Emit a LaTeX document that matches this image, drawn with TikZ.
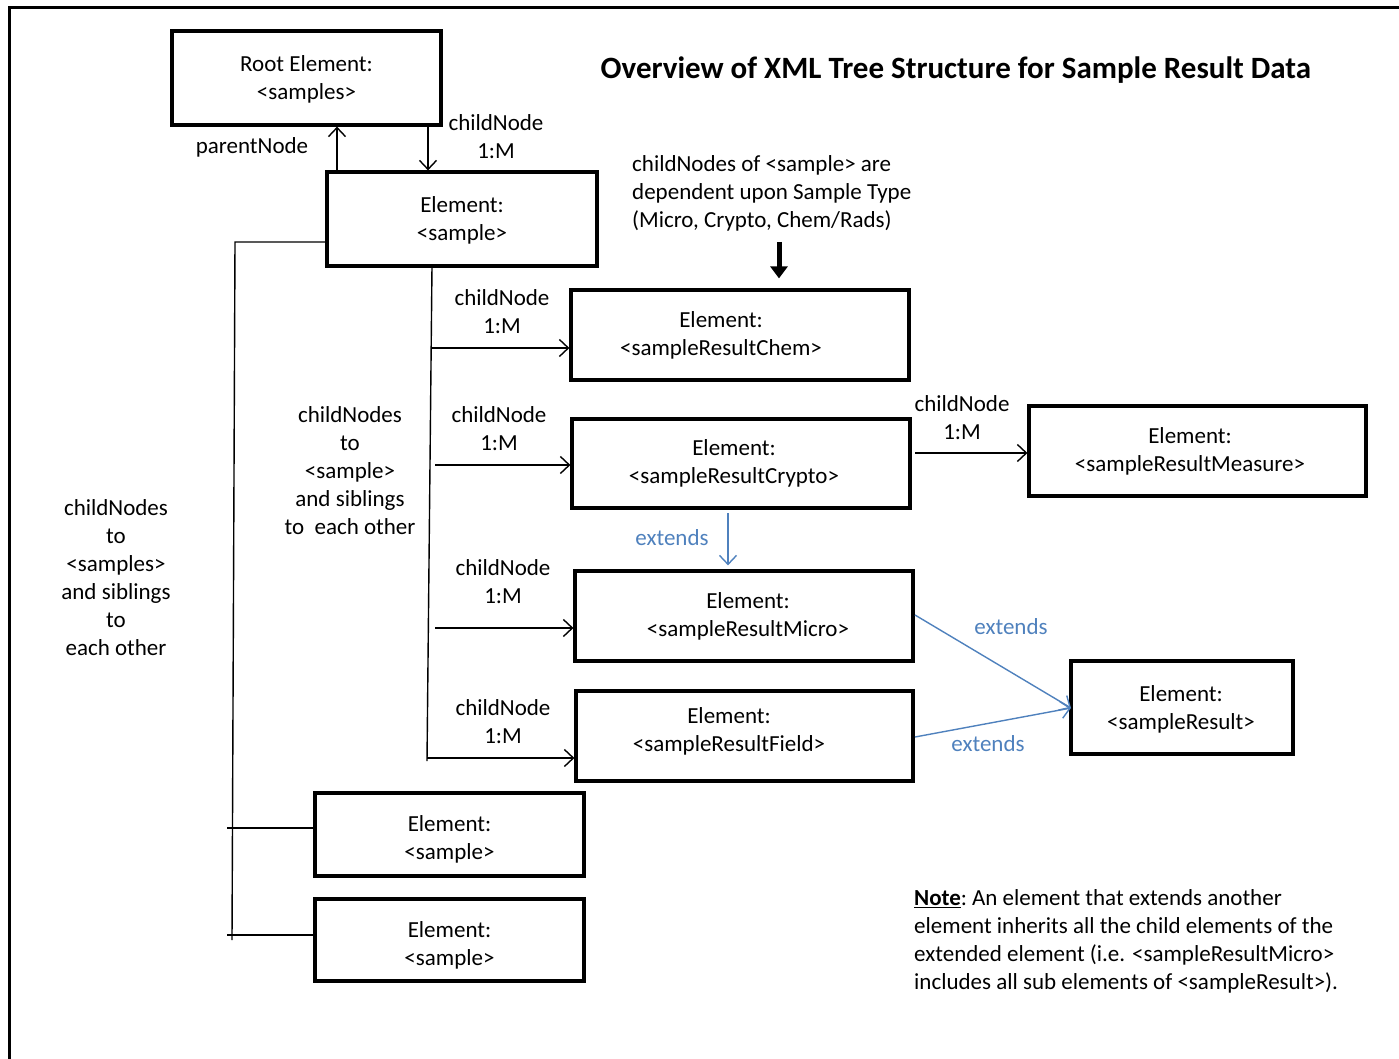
\documentclass[tikz,border=0pt]{standalone}
\usepackage{fontspec}
\setmainfont{Carlito}
\usetikzlibrary{arrows.meta}
\definecolor{extblue}{RGB}{79,129,189}
\begin{document}
\begin{tikzpicture}[x=1pt,y=-1pt,
  txt/.style={font=\fontsize{23}{28}\selectfont, align=center, inner sep=0pt},
  elbox/.style={draw, line width=3.2pt, inner sep=0pt},
  arr/.style={line width=1.4pt, -{Straight Barb[length=9pt,width=17pt,line width=1.4pt]}},
  plain/.style={line width=1.4pt},
  extarr/.style={arr, draw=extblue},
  extlbl/.style={txt, text=extblue}]
\useasboundingbox (0,0) rectangle (1399,1059);
% frame
\draw[line width=3.6pt] (9.5,1062) -- (9.5,7.5) -- (1402,7.5);

% boxes
\node[elbox, minimum width=269pt, minimum height=94pt] (root) at (306.5,78) {};
\node[elbox, minimum width=270pt, minimum height=94pt] (s1) at (462,219) {};
\node[elbox, minimum width=338pt, minimum height=90pt] (chem) at (740,335) {};
\node[elbox, minimum width=338pt, minimum height=89pt] (crypto) at (741,463.5) {};
\node[elbox, minimum width=337pt, minimum height=90pt] (measure) at (1197.5,451) {};
\node[elbox, minimum width=338pt, minimum height=90pt] (micro) at (744,616) {};
\node[elbox, minimum width=337pt, minimum height=90pt] (field) at (744.5,736) {};
\node[elbox, minimum width=222pt, minimum height=93pt] (sr) at (1182,707.5) {};
\node[elbox, minimum width=269pt, minimum height=83pt] (s2) at (449.5,834.5) {};
\node[elbox, minimum width=269pt, minimum height=82pt] (s3) at (449.5,940) {};

% box texts
\node[txt] (troot) at (306.5,79) {Root Element:\\<samples>};
\node[txt] (ts1) at (462,220) {Element:\\<sample>};
\node[txt] (tchem) at (721,335) {Element:\\<sampleResultChem>};
\node[txt] (tcrypto) at (734,463) {Element:\\<sampleResultCrypto>};
\node[txt] (tmeasure) at (1190,451) {Element:\\<sampleResultMeasure>};
\node[txt] (tmicro) at (748,616) {Element:\\<sampleResultMicro>};
\node[txt] (tfield) at (729,731) {Element:\\<sampleResultField>};
\node[txt] (tsr) at (1181,709) {Element:\\<sampleResult>};
\node[txt] (ts2) at (449.5,839) {Element:\\<sample>};
\node[txt] (ts3) at (449.5,945) {Element:\\<sample>};

% title
\node[font=\fontsize{31}{37}\selectfont\bfseries, inner sep=0pt] (title) at (956,70) {Overview of XML Tree Structure for Sample Result Data};

% root <-> sample
\coordinate (pn) at (337,172);
\coordinate (cn) at (428,125);
\draw[arr] (pn) -- (pn |- root.south);
\draw[arr] (cn) -- (cn |- s1.north);
\node[txt] (lparent) at (252,147) {parentNode};
\node[txt] (lchild0) at (496,137) {childNode\\1:M};

% vertical trunk from sample
\coordinate (trtop) at (432,266);
\coordinate (trbot) at (427,761);
\draw[plain] (trtop) -- (trbot);
\coordinate (a1) at (432,348);
\coordinate (a2) at (435,465);
\coordinate (a3) at (435,628);
\coordinate (a4) at (427,758);
\draw[arr] (a1) -- (a1 -| chem.west);
\draw[arr] (a2) -- (a2 -| crypto.west);
\draw[arr] (a3) -- (a3 -| micro.west);
\draw[arr] (a4) -- (a4 -| field.west);
\node[txt] (lc1) at (502,312) {childNode\\1:M};
\node[txt] (lc2) at (499,429) {childNode\\1:M};
\node[txt] (lc3) at (503,582) {childNode\\1:M};
\node[txt] (lc4) at (503,722) {childNode\\1:M};

% left bracket
\coordinate (b1) at (235,242);
\coordinate (b2) at (232,940);
\draw[plain] (s1.west |- b1) -- (b1) -- (b2);
\coordinate (t2) at (227,828);
\coordinate (t3) at (227,935);
\draw[plain] (t2) -- (t2 -| s2.west);
\draw[plain] (t3) -- (t3 -| s3.west);

% side texts
\node[txt] (sib1) at (350,471) {childNodes\\to\\<sample>\\and siblings\\to\ \ each other};
\node[txt] (sib2) at (116,578) {childNodes\\to\\<samples>\\and siblings\\to\\each other};
\node[txt, align=left, anchor=west] (dep) at (632,193) {childNodes of <sample> are\\dependent upon Sample Type\\(Micro, Crypto, Chem/Rads)};

% heavy arrow
\coordinate (ha) at (779,242);
\draw[line width=5pt, -{Triangle[length=12pt,width=17pt]}] (ha) -- ([yshift=10pt]ha |- chem.north);

% crypto -> measure
\coordinate (cm) at (915,453);
\draw[arr] (cm) -- (cm -| measure.west);
\node[txt] (lcm) at (962,418) {childNode\\1:M};

% extends
\coordinate (ex1) at (728,513);
\draw[extarr] (ex1) -- ([yshift=4pt]ex1 |- micro.north);
\node[extlbl] (le1) at (672,538) {extends};
\coordinate (mi) at (915,615);
\coordinate (fi) at (915,737);
\coordinate (srin) at (1071,708);
\draw[extarr] (mi) -- (srin);
\draw[extarr] (fi) -- (srin);
\node[extlbl] (le2) at (1011,627) {extends};
\node[extlbl] (le3) at (988,744) {extends};

% note
\node[txt, align=left, anchor=north west] (note) at (914,889) {\textbf{\underline{Note}}:\hspace{-2pt} An element that extends another\\element inherits all the child elements of the\\extended element (i.e. <sampleResultMicro>\\includes all sub elements of <sampleResult>).};
\end{tikzpicture}
\end{document}
